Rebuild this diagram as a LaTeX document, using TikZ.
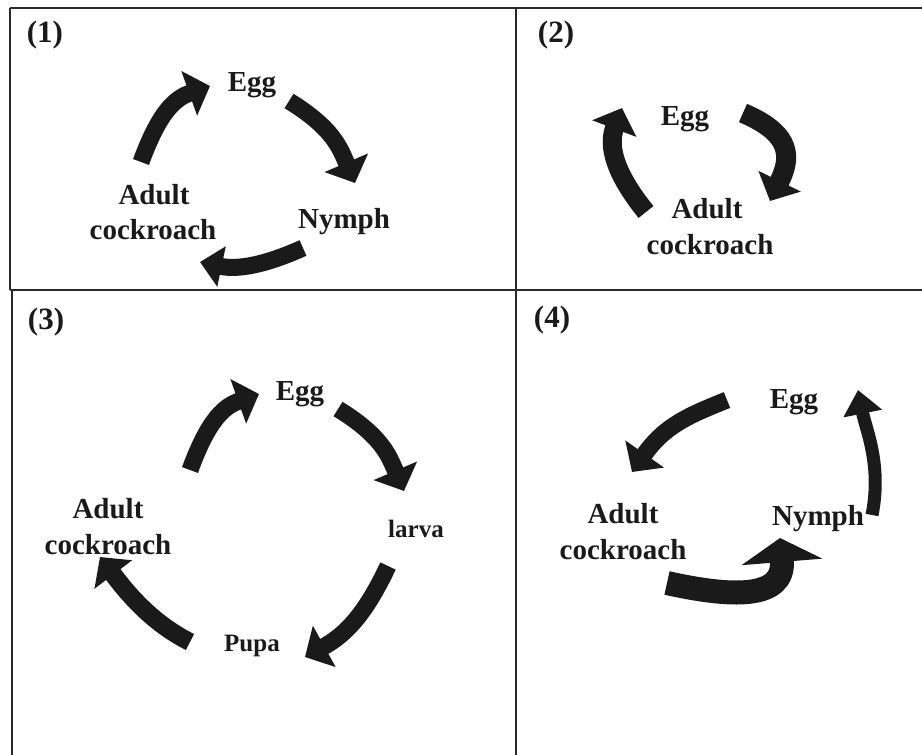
\documentclass[tikz,border=0pt]{standalone}
\usepackage{fontspec}
\setmainfont{Liberation Serif}
\usetikzlibrary{arrows.meta}
\definecolor{ink}{HTML}{1A1A1A}
\definecolor{rule}{HTML}{2A2A2A}
\begin{document}
\begin{tikzpicture}[x=1pt,y=-1pt,
  lbl/.style={font=\bfseries\fontsize{29}{35}\selectfont, inner sep=0pt, anchor=base, text=ink},
  sml/.style={font=\bfseries\fontsize{25}{30}\selectfont, inner sep=0pt, anchor=base, text=ink},
  num/.style={font=\bfseries\fontsize{31}{36}\selectfont, inner sep=0pt, anchor=base, text=ink},
  carrow/.style={draw=ink, line width=17pt, -{Triangle[length=22pt,width=46pt]}},
  grid/.style={draw=rule, line width=1.6pt}]
\useasboundingbox (0,0) rectangle (922,755);
\fill[white] (0,0) rectangle (922,755);

% frame lines
\coordinate (tl) at (10,8);
\coordinate (tr) at (922,8);
\coordinate (ml) at (10,290);
\coordinate (mr) at (922,290);
\coordinate (bl) at (12,755);
\coordinate (ctop) at (516,8);
\coordinate (cbot) at (516,755);
\coordinate (ml2) at (12,290);
\draw[grid] (tl) -- (tr);
\draw[grid] (tl) -- (ml);
\draw[grid] (ml2) -- (bl);
\draw[grid] (ml) -- (mr);
\draw[grid] (ctop) -- (cbot);

% ---------- panel 1 ----------
\node[num] (n1) at (45,42) {(1)};
\node[lbl] (p1egg) at (252,91) {Egg};
\node[lbl] (p1adult) at (154,204) {Adult};
\node[lbl] (p1cock) at (153,239) {cockroach};
\node[lbl] (p1nymph) at (344,228) {Nymph};
\coordinate (p1as) at (141,162); \coordinate (p1ae) at (210,86);
\coordinate (p1bs) at (289,101); \coordinate (p1be) at (355,183);
\coordinate (p1cs) at (303,248); \coordinate (p1ce) at (200,262);
\draw[carrow] (p1as) .. controls (160,110) and (176,98) .. (p1ae);
\draw[carrow] (p1bs) .. controls (333,128) and (340,148) .. (p1be);
\draw[carrow, -{Triangle[length=22pt,width=40pt]}] (p1cs) .. controls (265,265) and (238,270) .. (p1ce);

% ---------- panel 2 ----------
\node[num] (n2) at (556,42) {(2)};
\node[lbl] (p2egg) at (685,125) {Egg};
\node[lbl] (p2adult) at (707,218) {Adult};
\node[lbl] (p2cock) at (710,254) {cockroach};
\coordinate (p2as) at (646,212); \coordinate (p2ae) at (622,108);
\coordinate (p2bs) at (743,113); \coordinate (p2be) at (770,201);
\draw[carrow, line width=19pt] (p2as) .. controls (608,165) and (610,140) .. (p2ae);
\draw[carrow, line width=20pt] (p2bs) .. controls (795,135) and (790,160) .. (p2be);

% ---------- panel 3 ----------
\node[num] (n3) at (46,329) {(3)};
\node[lbl] (p3egg) at (300,400) {Egg};
\node[lbl] (p3adult) at (108,518) {Adult};
\node[lbl] (p3cock) at (108,554) {cockroach};
\node[sml] (p3larva) at (416,537) {larva};
\node[sml] (p3pupa) at (252,651) {Pupa};
\coordinate (p3as) at (190,470); \coordinate (p3ae) at (259,394);
\coordinate (p3bs) at (338,409); \coordinate (p3be) at (404,491);
\coordinate (p3cs) at (388,566); \coordinate (p3ce) at (305,657);
\coordinate (p3ds) at (190,642); \coordinate (p3de) at (100,557);
\draw[carrow] (p3as) .. controls (209,418) and (225,406) .. (p3ae);
\draw[carrow] (p3bs) .. controls (382,436) and (389,456) .. (p3be);
\draw[carrow] (p3cs) .. controls (365,615) and (345,635) .. (p3ce);
\draw[carrow, line width=18pt] (p3ds) .. controls (150,622) and (125,590) .. (p3de);

% ---------- panel 4 ----------
\node[num] (n4) at (552,327) {(4)};
\node[lbl] (p4egg) at (794,408) {Egg};
\node[lbl] (p4adult) at (623,523) {Adult};
\node[lbl] (p4cock) at (623,559) {cockroach};
\node[lbl] (p4nymph) at (818,525) {Nymph};
\coordinate (p4as) at (727,400); \coordinate (p4ae) at (632,472);
\coordinate (p4bs) at (667,583); \coordinate (p4be) at (780,538);
\coordinate (p4cs) at (872,515); \coordinate (p4ce) at (858,390);
\draw[carrow] (p4as) .. controls (690,415) and (665,425) .. (p4ae);
\draw[carrow, line width=24pt, -{Triangle[length=24pt,width=80pt]}] (p4bs) .. controls (730,597) and (785,600) .. (p4be);
\draw[carrow, line width=13pt, -{Triangle[length=24pt,width=38pt]}] (p4cs) .. controls (882,465) and (866,430) .. (p4ce);
\end{tikzpicture}
\end{document}
